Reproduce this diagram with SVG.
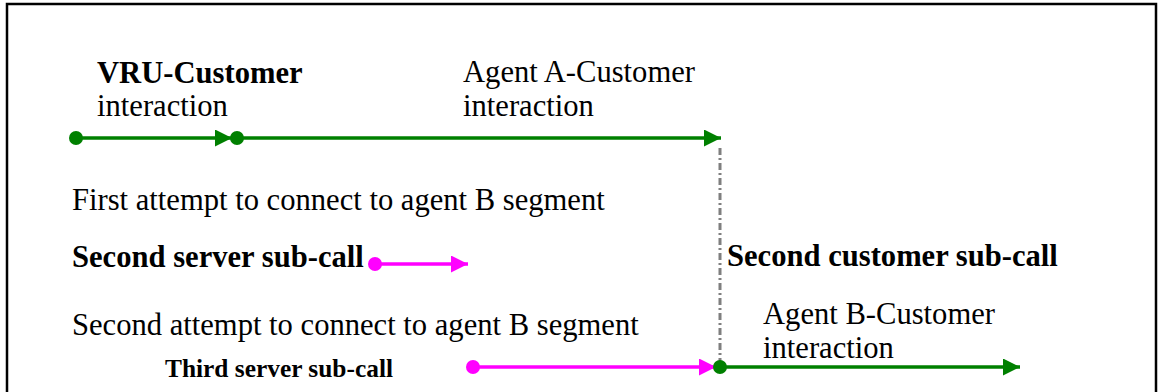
<svg xmlns="http://www.w3.org/2000/svg" width="1158" height="392" viewBox="0 0 1158 392">
<defs>
<style>
.t{font-family:"Liberation Serif","Times New Roman",serif;font-size:30.6px;fill:#000}
.b{font-weight:bold}
.g{stroke:#008000;stroke-width:3.5;fill:none}
.m{stroke:#FF00FF;stroke-width:3.5;fill:none}
.gd{fill:#008000}
.md{fill:#FF00FF}
</style>
<marker id="ag" markerUnits="userSpaceOnUse" markerWidth="18" markerHeight="18" refX="17" refY="8.5" orient="auto"><path d="M0,0 L17,8.5 L0,17 Z" fill="#008000"/></marker>
<marker id="am" markerUnits="userSpaceOnUse" markerWidth="18" markerHeight="18" refX="17" refY="8.5" orient="auto"><path d="M0,0 L17,8.5 L0,17 Z" fill="#FF00FF"/></marker>
</defs>
<rect width="1158" height="392" fill="#fff"/>
<path d="M7,400 V4 H1156 V400" fill="none" stroke="#000" stroke-width="2.5"/>
<g id="labels">
<text class="t b" x="97" y="83">VRU-Customer</text>
<text class="t" x="97" y="116">interaction</text>
<text class="t" x="463" y="82">Agent A-Customer</text>
<text class="t" x="463" y="116">interaction</text>
<text class="t" x="72" y="210">First attempt to connect to agent B segment</text>
<text class="t b" x="72" y="267">Second server sub-call</text>
<text class="t b" x="727" y="266">Second customer sub-call</text>
<text class="t" x="72" y="335">Second attempt to connect to agent B segment</text>
<text class="t" x="763" y="324">Agent B-Customer</text>
<text class="t" x="763" y="358">interaction</text>
<text class="t b" x="165" y="377" style="font-size:25px" textLength="228" lengthAdjust="spacingAndGlyphs">Third server sub-call</text>
</g>
<g id="connectors">
<line x1="720" y1="148" x2="720" y2="362" stroke="#7f7f7f" stroke-width="3" stroke-dasharray="7,3,2,3"/>
<line class="g" x1="76" y1="138" x2="232" y2="138" marker-end="url(#ag)"/>
<line class="g" x1="237" y1="138" x2="721" y2="138" marker-end="url(#ag)"/>
<line class="m" x1="375" y1="264" x2="468" y2="264" marker-end="url(#am)"/>
<line class="m" x1="473" y1="367" x2="716" y2="367" marker-end="url(#am)"/>
<line class="g" x1="720" y1="367" x2="1020" y2="367" marker-end="url(#ag)"/>
</g>
<g id="node-vru-start"><circle class="gd" cx="76" cy="138" r="7"/></g>
<g id="node-agentA-start"><circle class="gd" cx="237" cy="138" r="7"/></g>
<g id="node-second-server"><circle class="md" cx="375" cy="264" r="7"/></g>
<g id="node-third-server"><circle class="md" cx="473" cy="367" r="7"/></g>
<g id="node-agentB-start"><circle class="gd" cx="720" cy="367" r="7"/></g>
</svg>
